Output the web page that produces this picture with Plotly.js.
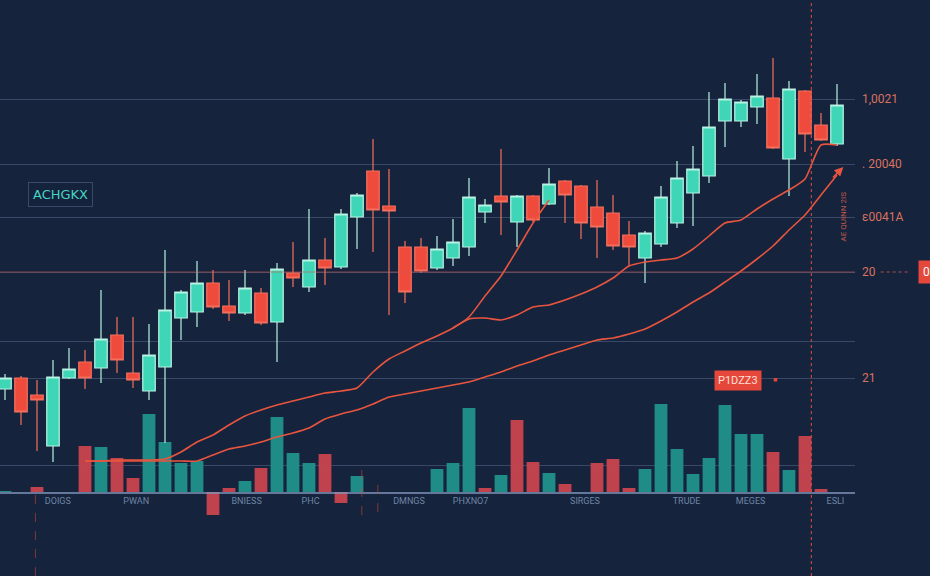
<!DOCTYPE html>
<html><head><meta charset="utf-8">
<script src="https://cdn.plot.ly/plotly-3.0.1.min.js"></script>
<style>html,body{margin:0;padding:0;background:#15233c;}#chart{width:930px;height:576px;}</style>
</head><body><div id="chart"></div>
<script>
// session index (x)
const session = [0,1,2,3,4,5,6,7,8,9,10,11,12,13,14,15,16,17,18,19,20,21,22,23,24,25,26,27,28,29,30,31,32,33,34,35,36,37,38,39,40,41,42,43,44,45,46,47,48,49,50,51,52];
const openP  = [187,198,181,130,198,214,208,241,203,185,209,258,264,293,270,263,283,254,303,289,316,309,359,405,370,329,329,308,318,329,364,380,354,380,372,395,390,369,363,341,318,332,353,383,400,455,455,469,478,417,485,451,432];
const highP  = [202,200,196,216,228,226,286,259,259,252,326,286,315,306,296,306,288,313,334,367,338,367,383,437,407,335,338,340,357,398,377,427,381,381,408,396,391,396,381,355,345,390,415,430,484,493,476,502,518,495,486,463,492];
const lowP   = [176,151,125,114,197,187,193,203,188,176,133,236,249,267,255,261,251,214,289,284,291,307,327,324,261,273,303,306,310,320,353,341,329,354,371,353,337,318,326,310,293,329,348,350,393,429,449,452,427,380,424,435,430];
const closeP = [198,164,176,199,207,198,237,216,196,221,266,284,293,269,263,288,253,307,298,316,308,362,381,366,365,284,305,327,334,379,371,374,380,356,392,381,353,349,330,329,343,379,398,407,449,477,474,480,428,487,442,436,471];

const volume = [1,0,5,0,0,46,45,34,14,78,50,29,31,-23,4,11,24,75,39,29,38,-11,16,0,0,0,0,23,29,84,4,17,72,30,19,8,0,29,33,4,23,88,43,18,34,87,58,58,40,22,56,3,0];
const volDir = ['u','u','d','u','u','d','u','d','d','u','u','u','u','d','d','u','d','u','u','u','d','d','u','u','u','u','u','u','u','u','d','u','d','d','u','d','u','d','d','d','u','u','u','u','u','u','u','u','d','u','d','d','u'];

const maFastX = [5,6,7,8,9,10,11,12,13,14,15,16,17,18,19,20,21,22,23,24,25,26,27,28,29,30,31,32,33,34];
const maFast  = [115,115,116,116,116,117,124,134,141,151,160,166,171,175,179,183,185,188,204,217,225,233,240,248,259,280,300,326,353,376];
const maMidX  = [28,29,30,31,32,33,34,35,36,37,38,39,40,41,42,43,44,45,46,47,48,49,50,51,52];
const maMid   = [248,257,258,256,261,269,271,276,282,289,298,310,314,316,318,327,340,353,356,367,377,386,397,431,431];
const maSlowX = [5,6,7,8,9,10,11,12,13,14,15,16,17,18,19,20,21,22,23,24,25,26,27,28,29,30,31,32,33,34,35,36,37,38,39,40,41,42,43,44,45,46,47,48,49,50,51,52];
const maSlow  = [115,115,115,115,115,115,115,115,121,127,130,134,139,143,148,157,162,166,172,179,182,185,188,191,194,199,204,210,215,221,226,231,236,238,242,247,255,264,274,283,294,305,317,330,346,361,381,401];

const xTickPos  = [3.3,8.2,15.1,19.1,25.25,29.1,36.25,42.6,46.6,51.9];
const xTickText = ['DOIGS','PWAN','BNIESS','PHC','DMNGS','PHXNO7','SIRGES','TRUDE','MEGES','ESLI'];
const yTickPos  = [477,412,359,304,235,198,111];
const yTickText = ['1,0021','. 20040','ε0041A','20','','21',''];

const TEAL = '#3fd6b7', RED = '#ef4b3c', LINE = '#e8553f';
const volColors = volDir.map(d => d === 'u' ? 'rgba(32,146,139,0.95)' : 'rgba(200,68,78,0.95)');

const traces = [
  {type:'bar', x:session, y:volume, xaxis:'x', yaxis:'y', marker:{color:volColors, line:{width:0}}, width:0.8, hoverinfo:'skip', showlegend:false},
  {type:'candlestick', x:session, open:openP, high:highP, low:lowP, close:closeP, xaxis:'x', yaxis:'y2',
   increasing:{fillcolor:TEAL, line:{color:'#b8f2e3', width:1.2}},
   decreasing:{fillcolor:RED, line:{color:'#f4705e', width:1.2}},
   whiskerwidth:0, hoverinfo:'skip', showlegend:false},
  {type:'scatter', mode:'lines', x:maFastX, y:maFast, xaxis:'x', yaxis:'y2', line:{color:LINE, width:1.6, shape:'spline', smoothing:0.6}, hoverinfo:'skip', showlegend:false},
  {type:'scatter', mode:'lines', x:maMidX, y:maMid, xaxis:'x', yaxis:'y2', line:{color:LINE, width:1.6, shape:'spline', smoothing:0.6}, hoverinfo:'skip', showlegend:false},
  {type:'scatter', mode:'lines', x:maSlowX, y:maSlow, xaxis:'x', yaxis:'y2', line:{color:LINE, width:1.6, shape:'spline', smoothing:0.6}, hoverinfo:'skip', showlegend:false}
];

const layout = {
  width:930, height:576,
  margin:{l:0, r:75, t:0, b:0},
  paper_bgcolor:'#15233c', plot_bgcolor:'#15233c',
  boxgap:0.22, boxgroupgap:0,
  font:{family:'Roboto, sans-serif'},
  xaxis:{range:[-0.3125, 53.125], anchor:'free', position:0.1458, showgrid:false, zeroline:false,
         showline:true, linecolor:'rgba(130,150,185,0.75)', linewidth:1.5,
         tickvals:xTickPos, ticktext:xTickText, tickfont:{size:9, color:'#6f85a5'},
         ticks:'', rangeslider:{visible:false}, fixedrange:true},
  yaxis:{range:[-84, 492], visible:false, showgrid:false, zeroline:false, fixedrange:true},
  yaxis2:{range:[0, 576], overlaying:'y', side:'right', anchor:'x', showgrid:true,
          gridcolor:'rgba(115,135,170,0.38)', gridwidth:1, zeroline:false,
          tickvals:yTickPos, ticktext:yTickText, tickfont:{size:12, color:'#d9725f'},
          ticks:'', ticklabelstandoff:6, fixedrange:true},
  shapes:[
    {type:'line', xref:'paper', yref:'y2', x0:0, x1:1, y0:304, y1:304, line:{color:'rgba(205,88,80,0.6)', width:1}},
    {type:'line', xref:'paper', yref:'y2', x0:1.03, x1:1.065, y0:304, y1:304, line:{color:'rgba(220,90,80,0.8)', width:1, dash:'dot'}},
    {type:'line', xref:'x', yref:'paper', x0:50.4, x1:50.4, y0:0, y1:1, line:{color:'rgba(214,78,66,0.85)', width:1.2, dash:'dot'}},
    {type:'line', xref:'x', yref:'y', x0:1.9, x1:1.9, y0:-84, y1:0, line:{color:'rgba(200,70,60,0.6)', width:1, dash:'dash'}},
    {type:'line', xref:'x', yref:'y', x0:22.3, x1:22.3, y0:22, y1:-28, line:{color:'rgba(200,70,60,0.6)', width:1, dash:'dash'}},
    {type:'line', xref:'x', yref:'y', x0:23.3, x1:23.3, y0:7, y1:-28, line:{color:'rgba(200,70,60,0.6)', width:1, dash:'dash'}}
  ],
  annotations:[
    {xref:'paper', yref:'paper', x:0.0327, y:0.663, xanchor:'left', yanchor:'middle', text:'ACHGKX', showarrow:false,
     font:{family:'DejaVu Sans', size:13, color:'#46d4c4'}, bordercolor:'rgba(100,125,160,0.45)', borderwidth:1, borderpad:4, bgcolor:'rgba(20,34,58,0.6)'},
    {xref:'x', yref:'y2', x:45.8, y:196, text:'P1DZZ3', showarrow:false, bgcolor:'#e5473b', borderpad:3,
     font:{size:11, color:'#ffe0d8'}},
    {xref:'x', yref:'y2', x:48.1, y:196, text:'■', showarrow:false, font:{size:7, color:'#e5473b'}},
    {xref:'paper', yref:'y2', x:1.0737, y:304, xanchor:'left', text:'0', showarrow:false, bgcolor:'#e5473b', borderpad:4,
     font:{size:12, color:'#ffffff'}},
    {xref:'paper', yref:'y2', x:0.993, y:359, text:'AE QUINN 2IS', textangle:-90, showarrow:false, font:{size:8, color:'#c4584d'}},
    {xref:'x', yref:'y2', x:52.4, y:409, ax:-12, ay:12, text:'', showarrow:true, arrowhead:2, arrowsize:1.2, arrowwidth:1.5, arrowcolor:LINE}
  ]
};

Plotly.newPlot('chart', traces, layout, {staticPlot:true, displayModeBar:false});
</script>
</body></html>
